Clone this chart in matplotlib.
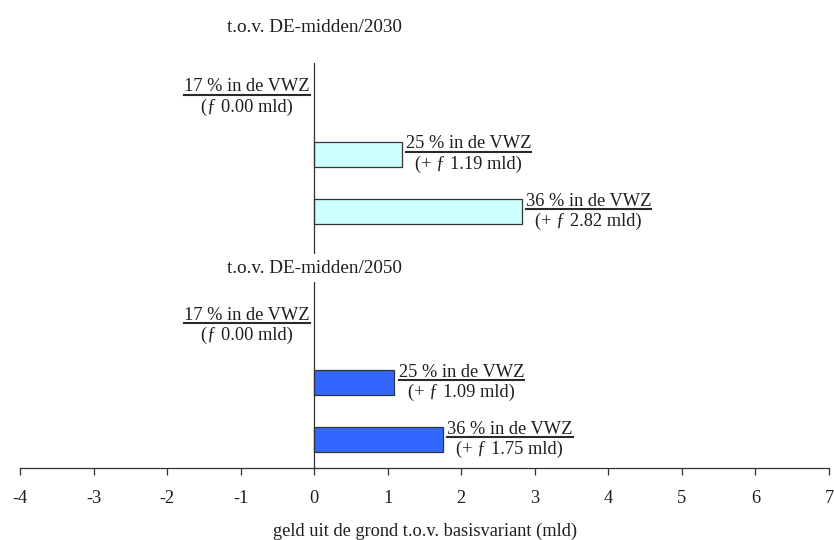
"""
Horizontal bars: extra ground revenue per VWZ share, relative to the
DE-midden 2030 and 2050 scenarios.
"""

import matplotlib

matplotlib.use("Agg")

import matplotlib.pyplot as plt
from matplotlib.lines import Line2D

plt.rcParams["font.family"] = ["Liberation Serif", "DejaVu Serif"]
plt.rcParams["axes.unicode_minus"] = False

# rows from top to bottom; None marks the header row between the two blocks
shares = ["17 % in de VWZ", "25 % in de VWZ", "36 % in de VWZ", None,
          "17 % in de VWZ", "25 % in de VWZ", "36 % in de VWZ"]
values = [0.00, 1.19, 2.82, None, 0.00, 1.09, 1.75]
colors = ["#ccffff", "#ccffff", "#ccffff", None, "#3366ff", "#3366ff", "#3366ff"]
headers = ["t.o.v. DE-midden/2030", "t.o.v. DE-midden/2050"]
header_rows = [-1.22, 3]
xticks = list(range(-4, 8))
xlabel = "geld uit de grond t.o.v. basisvariant (mld)"

TXT = "#1e1e1e"
FS = 13.2

fig = plt.figure(figsize=(8.34, 5.40), dpi=100)
ax = fig.add_axes([0.024, 0.1333, 0.970, 0.75])

rows = list(range(len(shares)))
for r, v, c in zip(rows, values, colors):
    if v is None or v == 0:
        continue
    ax.barh(r, v, height=0.43, color=c, edgecolor="#333333", linewidth=0.9, zorder=2)

ax.set_xlim(-4, 7)
ax.set_ylim(len(shares) - 0.5, -0.6)
ax.set_xticks(xticks)
ax.set_xticklabels([str(t) for t in xticks], fontsize=FS, color=TXT)
ax.set_yticks([])
ax.tick_params(axis="x", direction="out", length=5, width=0.9, color="#333333", pad=11)
ax.set_xlabel(xlabel, fontsize=FS, color=TXT, labelpad=11)

for side in ("top", "right"):
    ax.spines[side].set_visible(False)
ax.spines["left"].set_position(("data", 0))
ax.spines["left"].set_color("#333333")
ax.spines["left"].set_linewidth(0.9)
ax.spines["bottom"].set_color("#333333")
ax.spines["bottom"].set_linewidth(0.9)

for h, r in zip(headers, header_rows):
    ax.text(0, r, h, ha="center", va="center", fontsize=13.8, color=TXT, zorder=5,
            clip_on=False, bbox=dict(facecolor="white", edgecolor="none", pad=4))

# value labels: share on top (underlined), amount below
labels = []
for r, s, v in zip(rows, shares, values):
    if s is None:
        continue
    if v == 0:
        amount = f"(\u0192 {v:.2f} mld)"
        off, ha = -3, "right"
    else:
        amount = f"(+ \u0192 {v:.2f} mld)"
        off, ha = 3, "left"
    t = ax.annotate(f"{s}\n{amount}", xy=(v, r), xytext=(off, 0),
                    textcoords="offset points", ha=ha, va="center",
                    multialignment="center", fontsize=FS, color=TXT,
                    linespacing=1.25, zorder=5)
    labels.append((t, s))

fig.canvas.draw()
renderer = fig.canvas.get_renderer()
inv = fig.transFigure.inverted()
for t, s in labels:
    box = t.get_window_extent(renderer)
    probe = fig.text(0, 0, s, fontsize=FS)
    w = probe.get_window_extent(renderer).width
    probe.remove()
    cx = (box.x0 + box.x1) / 2
    y = (box.y0 + box.y1) / 2 + 2.5
    (x0, y0), (x1, y1) = inv.transform([(cx - w / 2, y), (cx + w / 2, y)])
    fig.add_artist(Line2D([x0, x1], [y0, y1], color="#2a2a2a", linewidth=1.5))

fig.savefig("out.png", dpi=100)
